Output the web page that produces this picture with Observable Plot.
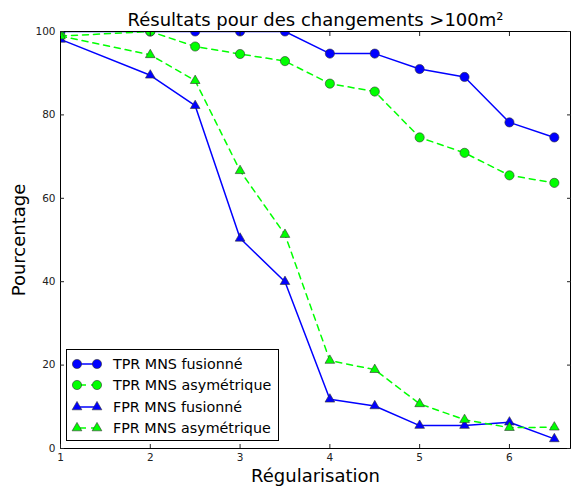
<!DOCTYPE html>
<html>
<head>
<meta charset="utf-8">
<script src="https://cdn.jsdelivr.net/npm/d3@7"></script>
<script src="https://cdn.jsdelivr.net/npm/@observablehq/plot@0.6"></script>
<style>
  body { margin: 0; background: white; font-family: "DejaVu Sans", sans-serif; }
  #wrap { position: relative; width: 571px; height: 489px; }
  #legend { position: absolute; left: 66px; top: 349px; width: 211px; height: 90px;
    border: 1px solid #000; background: #fff; box-sizing: content-box; }
  .row { position: absolute; left: 0; height: 20px; display: flex; align-items: center; }
  .row span { font-size: 14.3px; color: #000; margin-left: 6px; white-space: nowrap; }
</style>
</head>
<body>
<div id="wrap"><div id="legend"></div></div>
<script>
const xs = [1, 2, 2.5, 3, 3.5, 4, 4.5, 5, 5.5, 6, 6.5];
const tprFus = [100, 100, 100, 100, 100, 94.7, 94.7, 91.0, 89.1, 78.2, 74.6];
const tprAsym = [98.9, 100, 96.4, 94.6, 92.9, 87.5, 85.6, 74.6, 70.9, 65.5, 63.7];
const fprFus = [98.1, 89.5, 82.2, 50.4, 40.0, 11.8, 10.2, 5.5, 5.5, 6.3, 2.3];
const fprAsym = [98.9, 94.4, 88.2, 66.6, 51.3, 21.1, 18.9, 10.7, 6.9, 5.0, 5.1];
const seriesNames = ["TPR MNS fusionné", "TPR MNS asymétrique", "FPR MNS fusionné", "FPR MNS asymétrique"];
const xTicks = [1, 2, 3, 4, 5, 6];
const yTicks = [0, 20, 40, 60, 80, 100];
const title = "Résultats pour des changements >100m²";
const xLabel = "Régularisation";
const yLabel = "Pourcentage";

const BLUE = "#0000ff", GREEN = "#00ff00";
const styles = [
  {color: BLUE, dash: null, symbol: "circle", r: 4.6},
  {color: GREEN, dash: "6,5", symbol: "circle", r: 4.6},
  {color: BLUE, dash: null, symbol: "triangle", r: 3.6},
  {color: GREEN, dash: "6,5", symbol: "triangle", r: 3.6}
];
const values = [tprFus, tprAsym, fprFus, fprAsym];
const tables = values.map((v, k) => xs.map((x, i) => ({x, y: v[i], s: seriesNames[k]})));

const marks = [];
tables.forEach((t, k) => {
  const st = styles[k];
  marks.push(Plot.line(t, {x: "x", y: "y", stroke: st.color, strokeWidth: 1.5,
    strokeDasharray: st.dash, clip: true}));
  marks.push(Plot.dot(t, {x: "x", y: "y", symbol: st.symbol, r: st.r, fill: st.color,
    stroke: "#333", strokeWidth: 0.6, clip: true}));
});

const plot = Plot.plot({
  width: 571, height: 489,
  marginLeft: 60, marginRight: 1, marginTop: 31, marginBottom: 41,
  x: {domain: [1, 6.68]},
  y: {domain: [0, 100]},
  style: {fontFamily: "DejaVu Sans", fontSize: "10.5px", color: "#222", background: "white", overflow: "visible"},
  marks: [
    ...marks,
    Plot.frame({stroke: "#000", strokeWidth: 1}),
    Plot.axisX({ticks: xTicks, tickSize: -4, tickPadding: 9, tickFormat: d => String(d), label: null, fontSize: 10.5}),
    Plot.axisX({anchor: "top", ticks: xTicks, tickSize: -4, tickFormat: () => "", label: null}),
    Plot.axisY({ticks: yTicks, tickSize: -4, tickPadding: 9, tickFormat: d => String(d), label: null, fontSize: 10.5}),
    Plot.axisY({anchor: "right", ticks: yTicks, tickSize: -4, tickFormat: () => "", label: null}),
    Plot.text([title], {frameAnchor: "top", lineAnchor: "middle", textAnchor: "middle", dy: -11, fontSize: 18, fill: "#000"}),
    Plot.text([xLabel], {frameAnchor: "bottom", lineAnchor: "middle", textAnchor: "middle", dy: 28, fontSize: 18, fill: "#000"}),
    Plot.text([yLabel], {frameAnchor: "left", lineAnchor: "middle", textAnchor: "middle", dx: -41, rotate: -90, fontSize: 18, fill: "#000"})
  ]
});
document.getElementById("wrap").prepend(plot);

// legend
const legend = d3.select("#legend");
const rowY = [4, 25, 47, 68];
seriesNames.forEach((name, k) => {
  const st = styles[k];
  const row = legend.append("div").attr("class", "row").style("top", rowY[k] + "px");
  const svg = row.append("svg").attr("width", 40).attr("height", 20);
  svg.append("line").attr("x1", 10).attr("x2", 30).attr("y1", 10).attr("y2", 10)
    .attr("stroke", st.color).attr("stroke-width", 1.5)
    .attr("stroke-dasharray", st.dash ? "6,5" : null)
    .attr("stroke-dashoffset", st.dash ? -3 : null);
  const sym = d3.symbol(st.symbol === "circle" ? d3.symbolCircle : d3.symbolTriangle,
    Math.PI * st.r * st.r);
  [10, 30].forEach(cx => {
    svg.append("path").attr("d", sym()).attr("transform", `translate(${cx},10)`)
      .attr("fill", st.color).attr("stroke", "#333").attr("stroke-width", 0.6);
  });
  row.append("span").text(name);
});
</script>
</body>
</html>
